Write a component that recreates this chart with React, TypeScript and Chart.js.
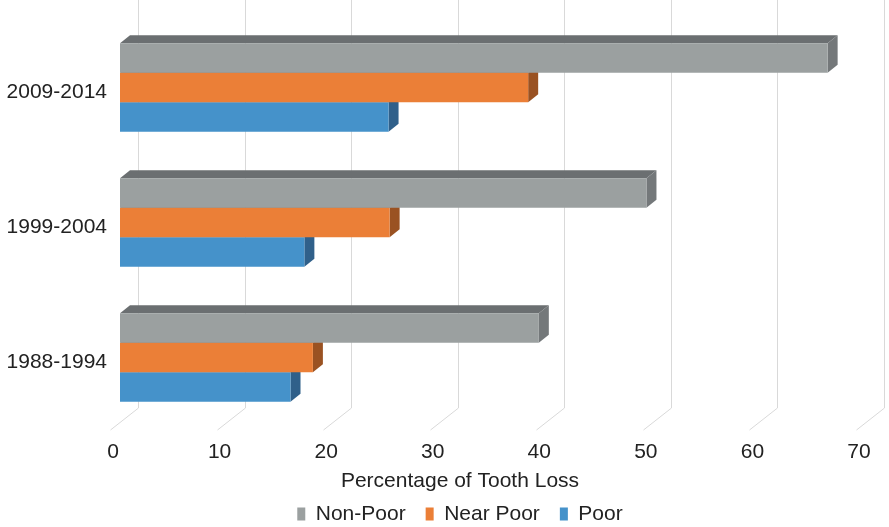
import React, { useEffect, useRef } from 'react';
import { Chart, registerables } from 'chart.js';

Chart.register(...registerables);

// ---- data ----
const categories = ['2009-2014', '1999-2004', '1988-1994'];
const seriesNames = ['Non-Poor', 'Near Poor', 'Poor'];
const nonPoor = [66.4, 49.4, 39.3];
const nearPoor = [38.3, 25.3, 18.1];
const poor = [25.2, 17.3, 16.0];
const axisTitle = 'Percentage of Tooth Loss';
const xMin = 0;
const xMax = 70;
const xStep = 10;

// ---- styles ----
const FONT = "'Liberation Sans', Arial, Helvetica, sans-serif";
const TEXT = '#222222';
const frontColors = ['#9ba0a0', '#eb7f37', '#4592ca'];
const topColors = ['#6b6f71', '#8c4a1f', '#2c5a82'];
const sideColors = ['#74787a', '#9a5222', '#30608a'];
const DX = 10;
const DY = 8;

const depthPlugin = {
  id: 'depth3d',
  beforeDatasetsDraw(chart: any) {
    const { ctx, chartArea, scales } = chart;
    const x = scales.x;
    ctx.save();
    // back-wall gridlines with floor tails
    ctx.strokeStyle = '#d9d9d9';
    ctx.lineWidth = 1;
    x.ticks.forEach((t: any) => {
      const p = Math.round(x.getPixelForValue(t.value)) + 0.5;
      ctx.beginPath();
      ctx.moveTo(p + 18, 0);
      ctx.lineTo(p + 18, chartArea.bottom - 17);
      ctx.lineTo(p - 10, chartArea.bottom + 5);
      ctx.stroke();
    });
    // top and side faces of the bars
    for (let d = chart.data.datasets.length - 1; d >= 0; d--) {
      const meta = chart.getDatasetMeta(d);
      meta.data.forEach((bar: any) => {
        const { x: xe, y, base, height } = bar.getProps(['x', 'y', 'base', 'height'], true);
        const top = y - height / 2;
        const bottom = y + height / 2;
        ctx.fillStyle = topColors[d];
        ctx.beginPath();
        ctx.moveTo(base, top);
        ctx.lineTo(base + DX, top - DY);
        ctx.lineTo(xe + DX, top - DY);
        ctx.lineTo(xe, top);
        ctx.closePath();
        ctx.fill();
        ctx.fillStyle = sideColors[d];
        ctx.beginPath();
        ctx.moveTo(xe, top);
        ctx.lineTo(xe + DX, top - DY);
        ctx.lineTo(xe + DX, bottom - DY);
        ctx.lineTo(xe, bottom);
        ctx.closePath();
        ctx.fill();
      });
    }
    ctx.restore();
  },
};

export default function App() {
  const ref = useRef<HTMLCanvasElement | null>(null);

  useEffect(() => {
    document.body.style.margin = '0';
    const canvas = ref.current;
    if (!canvas) return;
    const seriesValues = [nonPoor, nearPoor, poor];
    const chart = new Chart(canvas, {
      type: 'bar',
      data: {
        labels: categories,
        datasets: seriesNames.map((name, i) => ({
          label: name,
          data: seriesValues[i],
          backgroundColor: frontColors[i],
          borderWidth: 0,
          barPercentage: 1,
          categoryPercentage: 0.656,
        })),
      },
      options: {
        indexAxis: 'y',
        responsive: false,
        animation: false,
        events: [],
        layout: { padding: { left: 0, right: -31, top: 20, bottom: -7.5 } },
        scales: {
          x: {
            min: xMin,
            max: xMax,
            ticks: {
              stepSize: xStep,
              padding: 15,
              labelOffset: -7,
              color: TEXT,
              font: { family: FONT, size: 21 },
            },
            grid: { display: false, drawTicks: false },
            border: { display: false },
            afterFit(s: any) {
              s.height = 45.5;
              s.paddingLeft = 0;
              s.paddingRight = 23;
            },
          },
          y: {
            ticks: {
              padding: 13,
              labelOffset: 5,
              color: TEXT,
              font: { family: FONT, size: 21 },
            },
            grid: { display: false, drawTicks: false },
            border: { display: false },
            afterFit(s: any) {
              s.width = 120;
              s.paddingTop = 0;
              s.paddingBottom = 0;
            },
          },
        },
        plugins: {
          tooltip: { enabled: false },
          title: {
            display: true,
            text: axisTitle,
            position: 'bottom',
            weight: 500,
            color: TEXT,
            font: { family: FONT, size: 21, weight: 'normal', lineHeight: 1 },
            padding: { top: 0, bottom: -8 },
          },
          legend: {
            position: 'bottom',
            labels: {
              boxWidth: 8,
              boxHeight: 13,
              padding: 20,
              color: TEXT,
              font: { family: FONT, size: 21 },
            },
          },
        },
      },
      plugins: [depthPlugin],
    } as any);
    return () => chart.destroy();
  }, []);

  return <canvas ref={ref} width={889} height={527} style={{ display: 'block' }} />;
}
